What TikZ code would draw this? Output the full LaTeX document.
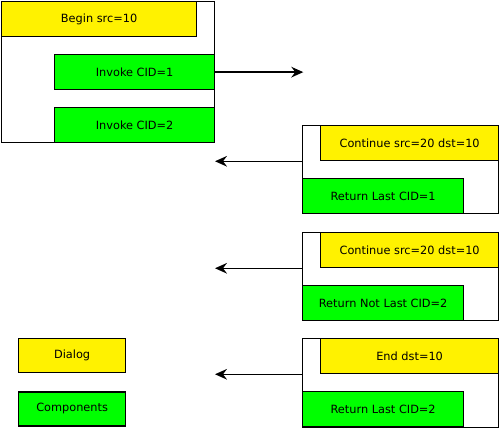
\documentclass[tikz,border=0pt]{standalone}
\usepackage{fontspec}
\setmainfont{DejaVu Sans}
\usetikzlibrary{arrows.meta,positioning}

\tikzset{
  msg/.style={draw, line width=0.95pt, inner sep=0pt, minimum height=26.25pt,
    font=\fontsize{8.5}{10}\selectfont},
  dialog/.style={msg, fill=yellow},
  comp/.style={msg, fill=green},
  frame/.style={draw, line width=0.8pt, inner sep=0pt},
  legend/.style={msg, minimum width=80.25pt, minimum height=25.5pt}
}

\begin{document}
\begin{tikzpicture}[x=0.75pt, y=-0.75pt]
  \useasboundingbox (0,0) rectangle (500,429);

  % sender
  \node (f1) [frame, anchor=north west, minimum width=159.75pt, minimum height=105.75pt] at (1,1) {};
  \node (begin) [dialog, anchor=north west, minimum width=146.25pt] at (1,1) {Begin src=10};
  \node (inv1) [comp, anchor=north west, minimum width=120pt] at (54,54) {Invoke CID=1};
  \node (inv2) [comp, anchor=north west, minimum width=120pt] at (54,107) {Invoke CID=2};
  \path (inv1.east) ++(88,0) coordinate (out1);

  % replies
  \node (f2) [frame, anchor=north west, minimum width=147pt, minimum height=66pt] at (302,125) {};
  \node (cont1) [dialog, anchor=north west, minimum width=133.5pt] at (320,125) {Continue src=20 dst=10};
  \node (ret1) [comp, anchor=north west, minimum width=120.75pt] at (302,178) {Return Last CID=1};
  \path (cont1.south -| f2.west) ++(-87,0) coordinate (in1);

  \node (f3) [frame, anchor=north west, minimum width=147pt, minimum height=66pt] at (302,232) {};
  \node (cont2) [dialog, anchor=north west, minimum width=133.5pt] at (320,232) {Continue src=20 dst=10};
  \node (ret2) [comp, anchor=north west, minimum width=120.75pt] at (302,285) {Return Not Last CID=2};
  \path (cont2.south -| f3.west) ++(-87,0) coordinate (in2);

  \node (f4) [frame, anchor=north west, minimum width=147pt, minimum height=67pt] at (302,338) {};
  \node (end) [dialog, anchor=north west, minimum width=133.5pt] at (320,338) {End dst=10};
  \node (ret3) [comp, anchor=north west, minimum width=120.75pt] at (302,391) {Return Last CID=2};
  \path (end.south -| f4.west) ++(-87,0) coordinate (in3);

  % legend
  \node (dlg) [legend, fill=yellow, anchor=north west] at (18,338) {Dialog};
  \node (cmp) [legend, fill=green, below=13.5pt of dlg] {Components};

  \path [-{Stealth[length=9pt, width=8pt, inset=3pt]}, line width=1pt]
    (inv1.east) edge (out1)
    (cont1.south -| f2.west) edge (in1)
    (cont2.south -| f3.west) edge (in2)
    (end.south -| f4.west) edge (in3);
\end{tikzpicture}
\end{document}
